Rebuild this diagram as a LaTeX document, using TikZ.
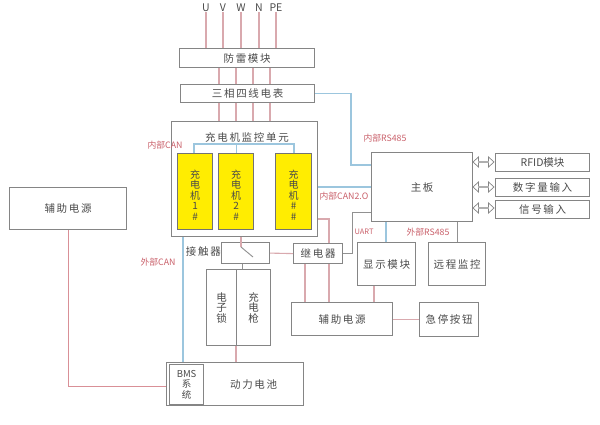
\documentclass[tikz,border=0pt]{standalone}
\usepackage{fontspec}
\setmainfont{Noto Sans CJK SC}
\newfontfamily\boxfont[LetterSpace=16]{Noto Sans CJK SC}
\usetikzlibrary{shapes.arrows}
\definecolor{boxgray}{HTML}{858585}
\definecolor{txtgray}{HTML}{4A4A4A}
\definecolor{linepink}{HTML}{D9A9AE}
\definecolor{lineblue}{HTML}{9CC6DE}
\definecolor{labelred}{HTML}{C9606A}
\newcommand{\chtop}{\rule{0pt}{15pt}}
\tikzset{
  box/.style={draw=boxgray, line width=1.2pt, text=txtgray, font=\fontsize{10.5}{10.5}\boxfont, anchor=north west, inner sep=0pt, align=center},
  charger/.style={box, draw=black!55, fill=yellow!95!orange, font=\fontsize{10}{10.5}\selectfont},
  pink/.style={draw=linepink, line width=1.1pt},
  blue/.style={draw=lineblue, line width=1.1pt},
  grayline/.style={draw=boxgray!90, line width=1pt},
  redlabel/.style={text=labelred, font=\fontsize{8.8}{10}\selectfont, inner sep=0pt},
  phase/.style={text=txtgray, font=\fontsize{10.5}{11}\selectfont, inner sep=0pt},
  dblarrow/.style={shape=double arrow, draw=boxgray, fill=white, line width=.7pt, inner sep=0pt, minimum height=21, minimum width=10, double arrow head extend=2.5, double arrow tip angle=85}
}
\begin{document}
\begin{tikzpicture}[x=1pt,y=-1pt]
\useasboundingbox (0,0) rectangle (600,425);
% input
\foreach \name/\px/\txt in {u/206/U,v/223/V,w/241/W,n/259/N,pe/276/PE}
  \node [phase] (\name) at (\px,8) {\txt};
\node [box, minimum width=135, minimum height=19] (spd) at (179,48) {防雷模块};
\node [box, minimum width=134, minimum height=18] (meter) at (180,84) {三相四线电表};
\node [box, minimum width=146, minimum height=115] (monitor) at (171,121) {};
\node [text=txtgray, font=\fontsize{10.5}{12}\boxfont, inner sep=0pt] (monitortxt) at (247,137) {充电机监控单元};
% chargers
\node [charger, minimum width=35, minimum height=76] (c1) at (177,153) {\chtop 充\\电\\机\\1\\\#};
\node [charger, minimum width=35, minimum height=76] (c2) at (218,153) {\chtop 充\\电\\机\\2\\\#};
\node [charger, minimum width=36, minimum height=76] (c3) at (275,153) {\chtop 充\\电\\机\\\#\\\#};
% middle
\node [box, minimum width=48, minimum height=21] (contactor) at (221,242) {};
\node [text=txtgray, font=\fontsize{10.5}{12}\boxfont, inner sep=0pt, anchor=east] (contactortxt) at (221,252) {接触器};
\node [box, minimum width=49, minimum height=20] (relay) at (293,243) {继电器};
\node [box, minimum width=30, minimum height=76] (lock) at (206,269) {电\\子\\锁};
\node [box, minimum width=34, minimum height=76] (gun) at (236,269) {充\\电\\枪};
\node [box, minimum width=137, minimum height=43] (battery) at (166,362) {\hspace*{37pt}动力电池};
\node [box, minimum width=34, minimum height=40, font=\fontsize{9.5}{10.5}\selectfont] (bms) at (169,364) {BMS\\系\\统};
\node [box, minimum width=101, minimum height=33] (aux) at (291,302) {辅助电源};
\node [box, minimum width=117, minimum height=42] (auxleft) at (9,187) {辅助电源};
% right
\node [box, minimum width=101, minimum height=69] (mainboard) at (371,152) {主板};
\node [box, minimum width=94, minimum height=18, font=\fontsize{10.5}{10.5}\selectfont] (rfid) at (495,153) {RFID模块};
\node [box, minimum width=94, minimum height=18] (digital) at (495,178) {数字量输入};
\node [box, minimum width=94, minimum height=18] (signal) at (495,200) {信号输入};
\node [box, minimum width=58, minimum height=43] (display) at (357,242) {显示模块};
\node [box, minimum width=57, minimum height=43] (remote) at (428,242) {远程监控};
\node [box, minimum width=59, minimum height=34] (estop) at (419,302) {急停按钮};
% labels
\node [redlabel] (lblcan) at (165,145) {内部CAN};
\node [redlabel] (lblrsin) at (385,138) {内部RS485};
\node [redlabel] (lblcantwo) at (344,196) {内部CAN2.O};
\node [redlabel, font=\fontsize{7.5}{9}\selectfont] (lbluart) at (364,232) {UART};
\node [redlabel] (lblrsout) at (428,232) {外部RS485};
\node [redlabel] (lblcanout) at (158,262) {外部CAN};
% power lines
\foreach \name in {u,v,w,n,pe}
  \draw [pink] (\name.south) -- (\name.south |- spd.north);
\foreach \px in {219,236,253,270} {
  \draw [pink] (\px,0 |- spd.south) -- (\px,0 |- meter.north);
  \draw [pink] (\px,0 |- meter.south) -- (\px,0 |- monitor.north);
}
% comm lines
\draw [blue] (meter.east) -- (351,0 |- meter.east) -- (351,165) -- (mainboard.west |- 0,165);
\draw [blue] (c1.north -| 194,0) -- (194,144) -- (294,144) -- (c3.north -| 294,0);
\draw [blue] (c2.north) -- (c2.north |- 0,144);
\draw [blue] (monitor.east |- 0,187) -- (mainboard.west |- 0,187);
\draw [blue] (monitor.south -| 183,0) -- (battery.north -| 183,0);
\draw [blue] (mainboard.south -| 386,0) -- (display.north -| 386,0);
\draw [grayline] (mainboard.south -| remote.north) -- (remote.north);
\draw [grayline] (relay.east) -- (352,0 |- relay.east) -- (352,212) -- (mainboard.west |- 0,212);
\draw [pink] (monitor.east |- 0,219) -- (329,219) -- (relay.north -| 329,0);
\draw [pink] (contactor.east) -- (relay.west);
\draw [pink] (relay.south -| 305,0) -- (aux.north -| 305,0);
\draw [pink] (relay.south -| 329,0) -- (aux.north -| 329,0);
\draw [pink] (display.south -| 374,0) -- (aux.north -| 374,0);
\draw [pink] (aux.east |- estop.west) -- (estop.west);
\draw [pink] (gun.south west) -- (battery.north -| gun.south west);
% contactor switch
\coordinate (swtop) at (241,247);
\coordinate (swend) at (253,257);
\draw [pink] (monitor.south -| swtop) -- (swtop);
\draw [grayline, line width=.9pt] (swtop) -- (swend);
\draw [grayline, line width=.9pt] (contactor.south -| 242,0) -- (lock.north -| 242,0);
% aux power to bms
\coordinate (auxturn) at (68,386);
\draw [draw=labelred!70, line width=.9pt] (auxleft.south -| auxturn) -- (auxturn) -- (battery.west |- auxturn);
% double arrows
\node [dblarrow] (arrowrfid) at (483.5,162) {};
\node [dblarrow] (arrowdigital) at (483.5,187) {};
\node [dblarrow] (arrowsignal) at (483.5,208) {};
\end{tikzpicture}
\end{document}
